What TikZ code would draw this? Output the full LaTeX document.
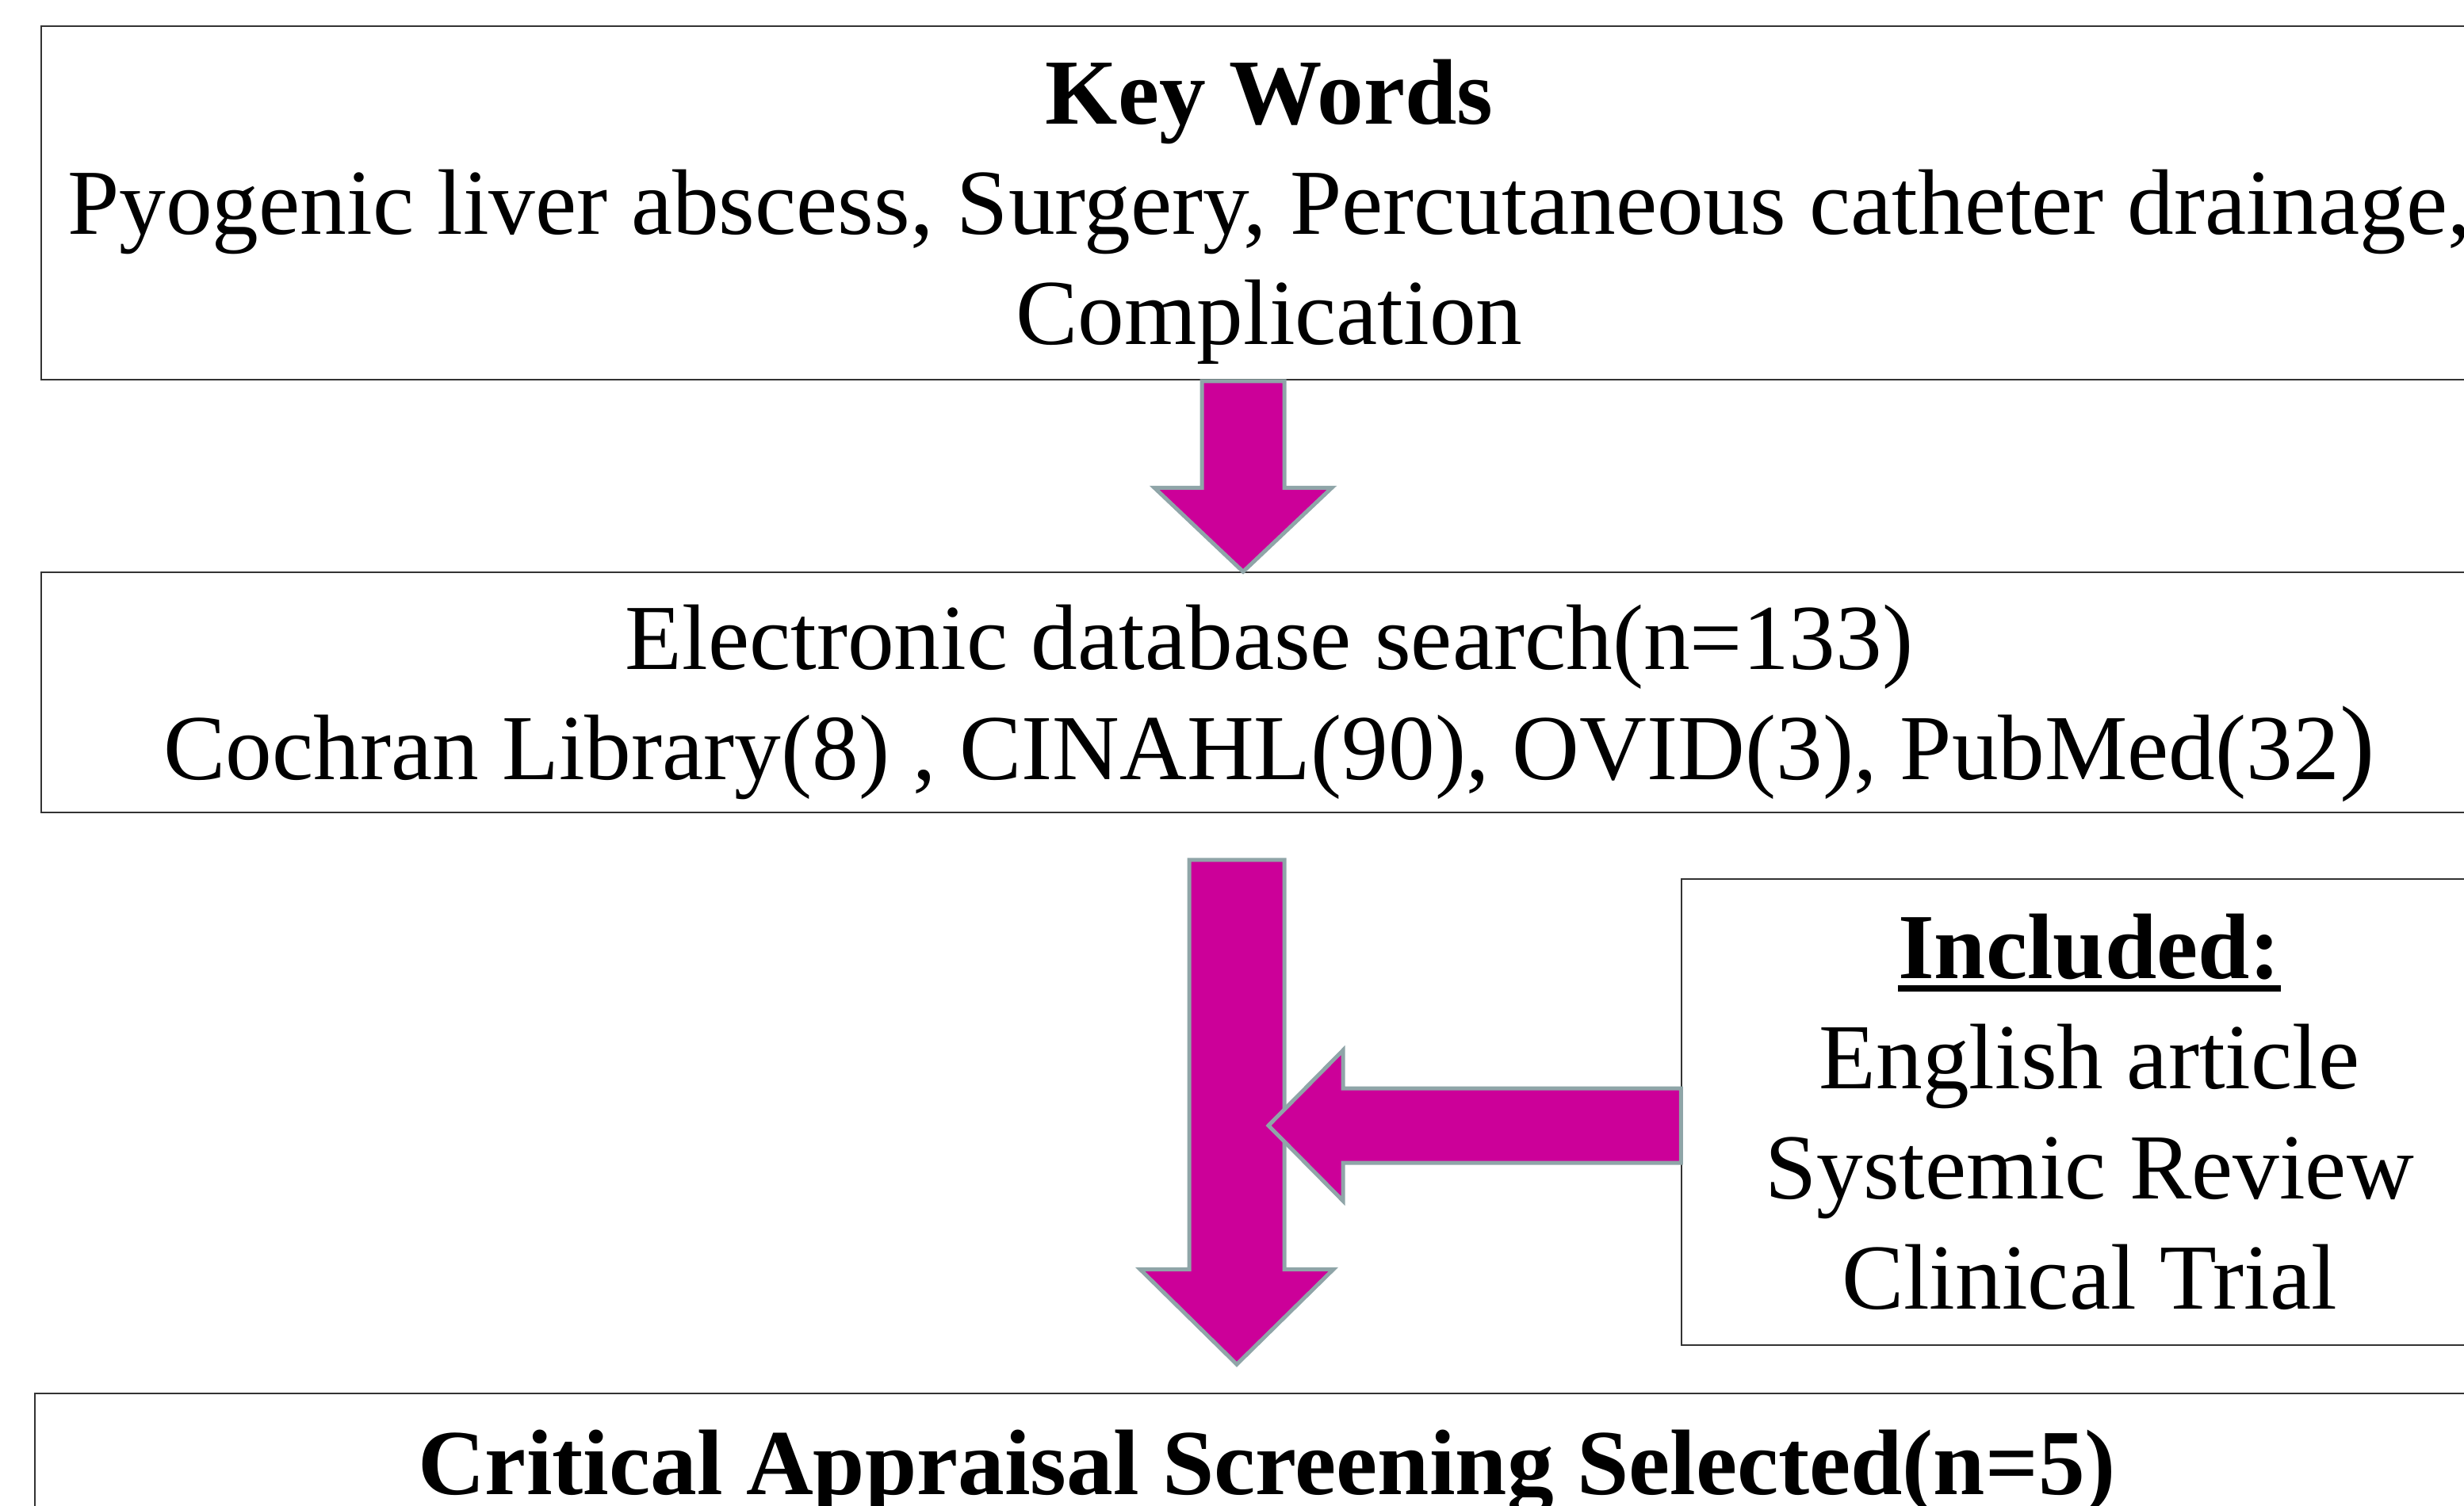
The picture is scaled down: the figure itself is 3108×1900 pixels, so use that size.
\documentclass[tikz,border=0pt]{standalone}
\usepackage{fontspec}
\setmainfont{Liberation Serif}
\usetikzlibrary{calc,positioning}
\definecolor{arrowpink}{HTML}{CC0099}
\definecolor{arrowedge}{HTML}{8FA5A8}
\definecolor{boxline}{HTML}{333333}
\newcommand{\ulined}[1]{\vtop{\hbox{#1}\kern1.8pt\hrule height 2.4pt}}
\newcommand{\bigparen}{{\fontsize{38}{39.5}\selectfont )}}
\newcommand{\pushdown}[1]{\rule{0pt}{#1}}
\tikzset{
  % boxes
  box/.style={draw=boxline,line width=0.15mm,fill=white,align=center,inner sep=0pt,
              font=\fontsize{33.4}{39.5}\selectfont},
  % block arrows
  blockarrow/.style={fill=arrowpink,draw=arrowedge,line width=0.5mm,line join=miter},
}

\begin{document}
\begin{tikzpicture}[x=0.1mm,y=-0.1mm]
  \useasboundingbox (0,0) rectangle (3108,1900);
  \clip (0,0) rectangle (3108,1900);
  \node[box,minimum width=309.8mm,minimum height=44.6mm] (kw) at (1601,256)
    {\pushdown{29.5pt}\textbf{Key Words}\\Pyogenic liver abscess, Surgery, Percutaneous catheter drainage,\\Complication};
  \node[box,minimum width=309.8mm,minimum height=30.3mm] (db) at (1601,873.5)
    {\pushdown{31pt}Electronic database search(n=133)\\Cochran Library(8) , CINAHL(90), OVID(3), PubMed(32\bigparen};
  \node[box,minimum width=102.9mm,minimum height=58.8mm] (inc) at (2635.5,1403)
    {\textbf{\ulined{Included:}}\\English article\\Systemic Review\\Clinical Trial};
  \node[box,minimum width=310.8mm,minimum height=20mm] (sel) at (1598,1858)
    {\textbf{Critical Appraisal Screening Selected(n=5)}};
  % arrow key words -> search
  \coordinate (a1top) at ($(kw.south)+(-33,1)$);
  \coordinate (a1tip) at (a1top |- db.north);
  \filldraw[blockarrow] ($(a1top)+(-52,0)$) -- ($(a1top)+(52,0)$) -- ($(a1tip)+(52,-106)$)
    -- ($(a1tip)+(112,-106)$) -- (a1tip) -- ($(a1tip)+(-112,-106)$) -- ($(a1tip)+(-52,-106)$) -- cycle;
  % arrow search -> selected
  \coordinate (a2top) at ($(db.south)+(-41,59)$);
  \coordinate (a2tip) at ($(a2top |- sel.north)+(0,-36)$);
  \filldraw[blockarrow] ($(a2top)+(-60,0)$) -- ($(a2top)+(60,0)$) -- ($(a2tip)+(60,-120)$)
    -- ($(a2tip)+(122,-120)$) -- (a2tip) -- ($(a2tip)+(-122,-120)$) -- ($(a2tip)+(-60,-120)$) -- cycle;
  % arrow included -> main flow
  \coordinate (a3start) at ($(inc.west)+(0,17)$);
  \coordinate (a3tip) at ($(a2top |- a3start)+(40,0)$);
  \filldraw[blockarrow] ($(a3start)+(0,-47)$) -- ($(a3start)+(0,47)$) -- ($(a3tip)+(94,47)$)
    -- ($(a3tip)+(94,95)$) -- (a3tip) -- ($(a3tip)+(94,-95)$) -- ($(a3tip)+(94,-47)$) -- cycle;
\end{tikzpicture}
\end{document}
